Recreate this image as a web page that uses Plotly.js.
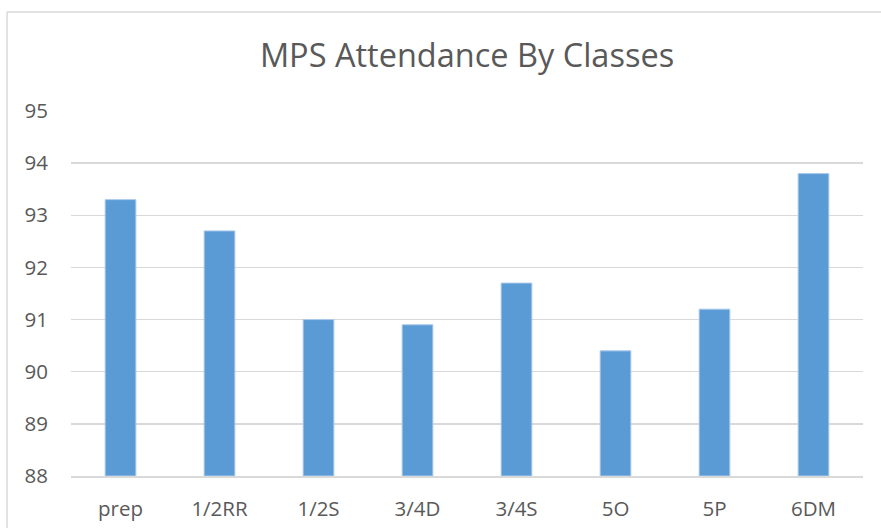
<!DOCTYPE html>
<html>
<head>
<meta charset="utf-8">
<script src="https://cdn.plot.ly/plotly-3.0.1.min.js"></script>
<style>html,body{margin:0;padding:0;background:#fff;}#chart{width:881px;height:528px;}</style>
</head>
<body>
<div id="chart"></div>
<script>
const categories = ["prep", "1/2RR", "1/2S", "3/4D", "3/4S", "5O", "5P", "6DM"];
const attendance = [93.3, 92.7, 91.0, 90.9, 91.7, 90.4, 91.2, 93.8];
const yTicks = [88, 89, 90, 91, 92, 93, 94, 95];
const axisFloor = 88;

const fontFam = "Open Sans, Noto Sans, sans-serif";
const trace = {
  type: "bar",
  x: categories,
  y: attendance.map(v => v - axisFloor),
  marker: { color: "#5B9BD5", line: { color: "#A9C9EA", width: 1 } },
  hoverinfo: "x+y"
};

const topPaper = (476 - 12) / 365;
const leftPaper = (7 - 71) / 792;

const layout = {
  width: 881, height: 528,
  margin: { l: 71, r: 18, t: 111, b: 52, pad: 0 },
  paper_bgcolor: "#ffffff", plot_bgcolor: "#ffffff",
  showlegend: false,
  bargap: 0.69,
  title: {
    text: "MPS Attendance By Classes",
    font: { family: fontFam, size: 32.5, color: "#595959" },
    x: 0.5, xanchor: "center", xref: "paper",
    y: 55, yref: "container", yanchor: "middle"
  },
  xaxis: {
    type: "category",
    showgrid: false, zeroline: false,
    showline: true, linecolor: "#D9D9D9", linewidth: 1.5,
    ticks: "", ticklabelstandoff: 14,
    tickfont: { family: fontFam, size: 20.5, color: "#595959" },
    fixedrange: true
  },
  yaxis: {
    range: [0, 7],
    tickvals: yTicks.map(v => v - axisFloor),
    ticktext: yTicks.map(String),
    showgrid: true, gridcolor: "#D9D9D9", gridwidth: 1.5,
    zeroline: false, showline: false,
    ticks: "", ticklabelstandoff: 22,
    tickfont: { family: fontFam, size: 20.5, color: "#595959" },
    fixedrange: true
  },
  shapes: [
    { type: "line", xref: "paper", yref: "paper", x0: leftPaper, x1: leftPaper, y0: topPaper, y1: -0.2, line: { color: "#D9D9D9", width: 1.5 } },
    { type: "line", xref: "paper", yref: "paper", x0: leftPaper, x1: 1.05, y0: topPaper, y1: topPaper, line: { color: "#D9D9D9", width: 1.5 } }
  ]
};

Plotly.newPlot("chart", [trace], layout, { staticPlot: true, displayModeBar: false });
</script>
</body>
</html>
